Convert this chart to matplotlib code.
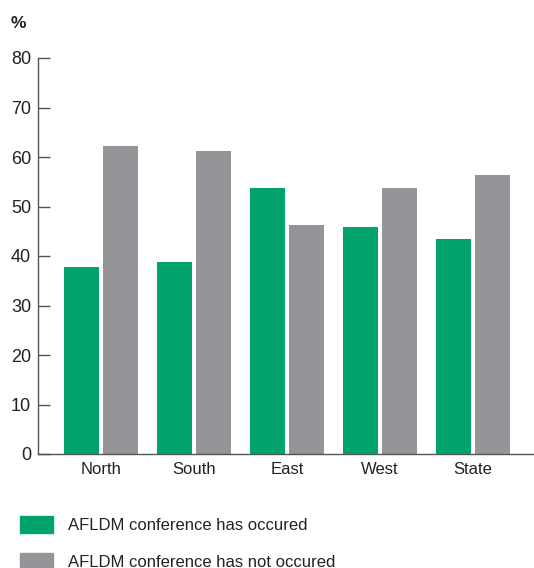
import numpy as np
import matplotlib.pyplot as plt
from matplotlib.patches import Patch

# Data
regions = ["North", "South", "East", "West", "State"]
occurred = [37.8, 38.8, 53.7, 45.9, 43.5]
not_occurred = [62.2, 61.2, 46.3, 53.8, 56.4]
y_ticks = [0, 10, 20, 30, 40, 50, 60, 70, 80]

green = "#00a36c"
grey = "#939598"

plt.rcParams['font.family'] = ['Liberation Sans', 'DejaVu Sans']

fig = plt.figure(figsize=(5.34, 5.68), dpi=100)
ax = fig.add_axes([38 / 534, 114 / 568, 496 / 534, 396 / 568])

x = np.arange(len(regions))
w = 0.376
off = 0.21
ax.bar(x - off, occurred, width=w, color=green)
ax.bar(x + off, not_occurred, width=w, color=grey)

ax.set_xlim(-0.68, 4.66)
ax.set_ylim(0, 80)
ax.set_yticks(y_ticks)
ax.set_xticks(x)
ax.set_xticklabels(regions)

for s in ["top", "right"]:
    ax.spines[s].set_visible(False)
for s in ["left", "bottom"]:
    ax.spines[s].set_color("#555555")
    ax.spines[s].set_linewidth(1.0)

ax.tick_params(axis="y", direction="in", length=8.5, width=1.0, color="#555555",
               labelsize=13, labelcolor="#222222", pad=5)
ax.tick_params(axis="x", length=0, labelsize=12, labelcolor="#222222", pad=6)

fig.text(11 / 534, 1 - 23 / 568, "%", fontsize=12.5, fontweight="bold",
         color="#222222", va="center", ha="left")

handles = [Patch(color=green), Patch(color=grey)]
labels = ["AFLDM conference has occured", "AFLDM conference has not occured"]
fig.legend(handles, labels, loc="upper left", bbox_to_anchor=(20 / 534, 1 - 516 / 568),
           frameon=False, fontsize=12, handlelength=2.0, handleheight=1.15,
           handletextpad=0.85, labelspacing=1.2, borderpad=0, borderaxespad=0,
           labelcolor="#222222")

fig.savefig("out.png", dpi=100)
